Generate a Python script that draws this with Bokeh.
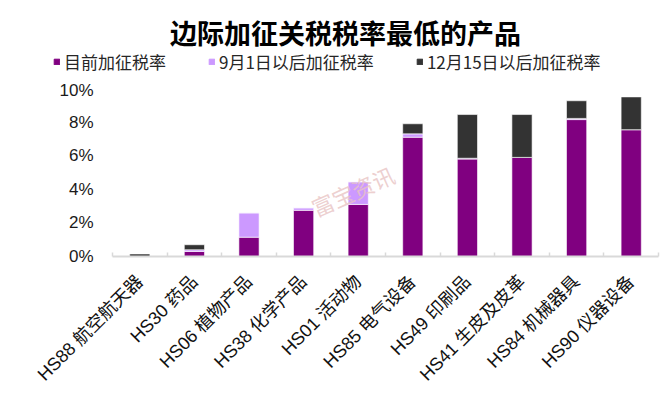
import math
from bokeh.plotting import figure
from bokeh.layouts import column
from bokeh.models import (Legend, LegendItem, Label, FixedTicker, ColumnDataSource)
from bokeh.embed import file_html
from bokeh.resources import INLINE

# ---- data ----
categories = ["HS88 航空航天器", "HS30 药品", "HS06 植物产品", "HS38 化学产品", "HS01 活动物",
              "HS85 电气设备", "HS49 印刷品", "HS41 生皮及皮革", "HS84 机械器具", "HS90 仪器设备"]
current_rate = [0.0, 0.3, 1.15, 2.75, 3.1, 7.1, 5.8, 5.9, 8.15, 7.55]
sep1_rate = [0.0, 0.1, 1.45, 0.15, 1.35, 0.2, 0.05, 0.0, 0.07, 0.0]
dec15_rate = [0.15, 0.3, 0.0, 0.0, 0.0, 0.6, 2.6, 2.55, 1.05, 1.95]
series_names = ["目前加征税率", "9月1日以后加征税率", "12月15日以后加征税率"]
y_ticks = [0, 2, 4, 6, 8, 10]
y_tick_labels = ["0%", "2%", "4%", "6%", "8%", "10%"]
title_text = "边际加征关税税率最低的产品"
watermark_text = "富宝资讯"

colors = ["#800080", "#CC99FF", "#333333"]
FONT = "Liberation Sans, Noto Sans CJK SC"
CJK = "Noto Sans CJK SC"
W = 664

idx = list(range(len(categories)))
source = ColumnDataSource(dict(x=idx, a=current_rate, b=sep1_rate, c=dec15_rate))

# ---------------- header: title + legend ----------------
header = figure(width=W, height=80, output_backend="svg", toolbar_location=None,
                x_axis_type=None, y_axis_type=None,
                x_range=(-0.5, len(categories) - 0.5), y_range=(0, 10), min_border=0)
header.frame_align = False
header.min_border_left = 0
header.min_border_right = 0
header.min_border_top = 0
header.min_border_bottom = 0
header.outline_line_color = None
header.xgrid.visible = False
header.ygrid.visible = False

legend_rs = header.vbar_stack(["a", "b", "c"], x="x", width=0.37, source=source, color=colors)
for r in legend_rs:
    r.visible = False
legend = Legend(items=[LegendItem(label=n, renderers=[r]) for n, r in zip(series_names, legend_rs)],
                orientation="horizontal", location=(53, 6),
                glyph_width=7, glyph_height=7, label_standoff=4, spacing=42,
                padding=0, margin=0, border_line_color=None, background_fill_alpha=0,
                inactive_fill_alpha=0,
                label_text_font=CJK, label_text_font_size="17px", label_text_color="#262626")
header.add_layout(legend, "center")
header.add_layout(Label(x=345, y=48, x_units="screen", y_units="screen", text=title_text,
                        text_align="center", text_baseline="middle", text_font=CJK,
                        text_font_size="27px", text_font_style="bold", text_color="#000000"))

# ---------------- main chart ----------------
p = figure(width=W, height=314, output_backend="svg", toolbar_location=None,
           x_range=(-0.5, len(categories) - 0.5), y_range=(0, 10))
p.frame_align = False
p.min_border_left = 112
p.min_border_right = 6
p.min_border_top = 8
p.min_border_bottom = 137
p.outline_line_color = None
p.xgrid.visible = False
p.ygrid.visible = False

p.vbar_stack(["a", "b", "c"], x="x", width=0.37, source=source,
             color=colors, line_color="white", line_width=0.6)

# y axis
p.yaxis.ticker = FixedTicker(ticks=y_ticks)
p.yaxis.major_label_overrides = {t: l for t, l in zip(y_ticks, y_tick_labels)}
p.yaxis.axis_line_color = None
p.yaxis.major_tick_line_color = None
p.yaxis.minor_tick_line_color = None
p.yaxis.major_label_standoff = 13
p.yaxis.major_label_text_font = "Liberation Sans"
p.yaxis.major_label_text_font_size = "17px"
p.yaxis.major_label_text_color = "#1a1a1a"

# x axis
p.xaxis.ticker = FixedTicker(ticks=idx, minor_ticks=[i - 0.5 for i in range(len(categories) + 1)])
p.xaxis.major_label_overrides = {i: c for i, c in zip(idx, categories)}
p.xaxis.major_label_orientation = math.pi / 4
p.xaxis.major_label_text_font = FONT
p.xaxis.major_label_text_font_size = "18px"
p.xaxis.major_label_text_color = "#111111"
p.xaxis.major_label_standoff = 16
p.xaxis.axis_line_color = "#d9d9d9"
p.xaxis.axis_line_width = 2
p.xaxis.major_tick_line_color = None
p.xaxis.minor_tick_line_color = "#d9d9d9"
p.xaxis.minor_tick_line_width = 1.5
p.xaxis.minor_tick_in = 4
p.xaxis.minor_tick_out = 0

# watermark
p.add_layout(Label(x=240, y=66, x_units="screen", y_units="screen", text=watermark_text,
                   text_align="center", text_baseline="middle", text_font=CJK,
                   text_font_size="22px", text_color="#e8c4c4", text_alpha=0.8,
                   angle=0.42))

layout = column(header, p, spacing=0)
open("out.html", "w").write(file_html(layout, INLINE))
